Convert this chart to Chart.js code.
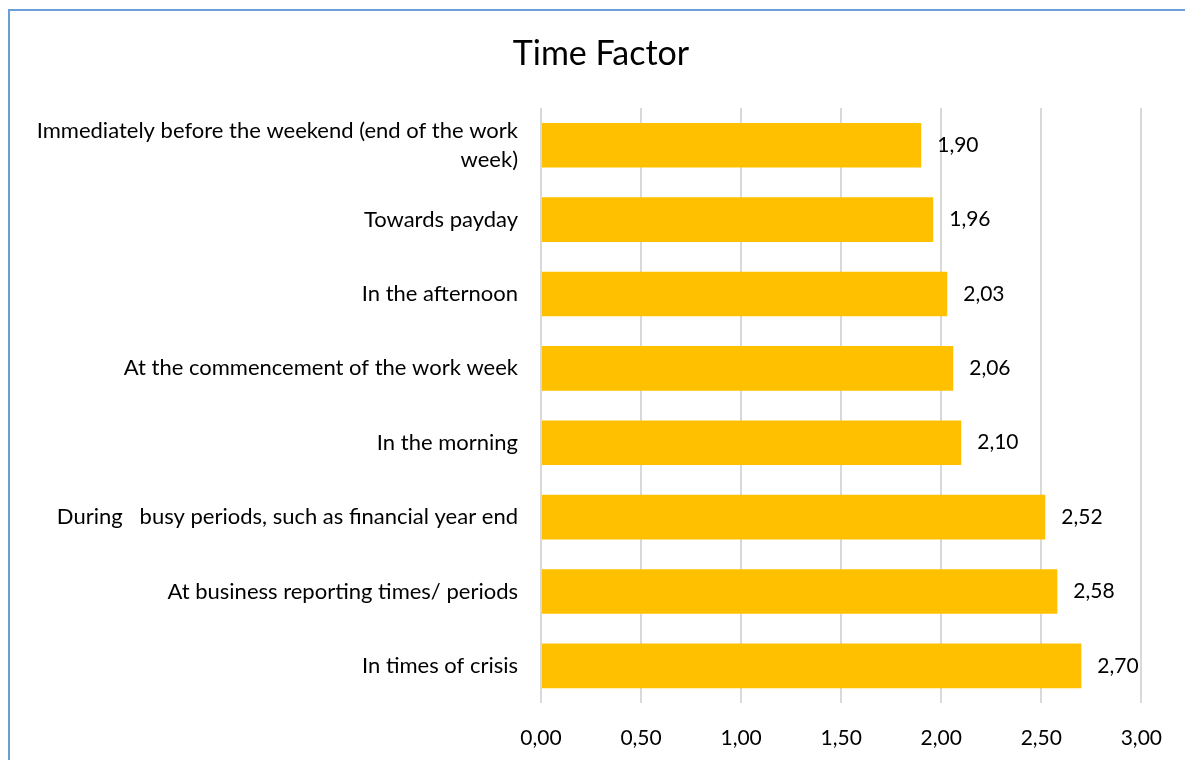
<!DOCTYPE html>
<html>
<head>
<meta charset="utf-8">
<script src="https://cdn.jsdelivr.net/npm/chart.js@4/dist/chart.umd.min.js"></script>
<style>
  html, body { margin: 0; padding: 0; background: #fff; overflow: hidden; }
  #wrap { position: relative; width: 1185px; height: 760px; }
  #frame { position: absolute; left: 8px; top: 9px; width: 1400px; height: 900px;
           border-left: 2px solid #6a9fd8; border-top: 2px solid #6a9fd8; pointer-events: none; }
</style>
</head>
<body>
<div id="wrap">
  <canvas id="chart"></canvas>
  <div id="frame"></div>
</div>
<script>
// categories, top to bottom
const categories = [
  ['Immediately before the weekend (end of the work', 'week)'],
  'Towards payday',
  'In the afternoon',
  'At the commencement of the work week',
  'In the morning',
  'During   busy periods, such as financial year end',
  'At business reporting times/ periods',
  'In times of crisis'
];
const scores = [1.90, 1.96, 2.03, 2.06, 2.10, 2.52, 2.58, 2.70];
const xTicks = [0, 0.5, 1, 1.5, 2, 2.5, 3];
const chartTitle = 'Time Factor';

const FONT = 'Lato, "Open Sans", sans-serif';
const fmt = v => v.toFixed(2).replace('.', ',');

// value labels to the right of each bar, plus the title (sits a bit right of centre)
const extras = {
  id: 'extras',
  afterDatasetsDraw(chart) {
    const ctx = chart.ctx;
    const meta = chart.getDatasetMeta(0);
    ctx.save();
    ctx.font = '21px ' + FONT;
    ctx.fillStyle = '#000';
    ctx.textAlign = 'left';
    ctx.textBaseline = 'middle';
    meta.data.forEach((bar, i) => {
      ctx.fillText(fmt(scores[i]), bar.x + 16, bar.y);
    });
    ctx.font = '34px ' + FONT;
    ctx.textAlign = 'center';
    ctx.fillText(chartTitle, 601, 54);
    ctx.restore();
  }
};

new Chart(document.getElementById('chart'), {
  type: 'bar',
  data: {
    labels: categories,
    datasets: [{
      data: scores,
      backgroundColor: '#FFC000',
      barPercentage: 0.6,
      categoryPercentage: 1.0
    }]
  },
  options: {
    indexAxis: 'y',
    responsive: true,
    maintainAspectRatio: false,
    animation: false,
    layout: { padding: { left: 0, right: 41, top: 108, bottom: 0 } },
    plugins: {
      legend: { display: false },
      tooltip: { enabled: false },
      title: { display: false }
    },
    scales: {
      x: {
        min: 0,
        max: 3,
        afterBuildTicks(scale) {
          scale.ticks = xTicks.map(v => ({ value: v }));
        },
        afterFit(scale) { scale.height = 57; },
        grid: { color: '#d9d9d9', lineWidth: 2, drawTicks: false },
        border: { display: false },
        ticks: {
          color: '#000',
          padding: 23,
          font: { family: FONT, size: 21 },
          callback: v => fmt(v)
        }
      },
      y: {
        afterFit(scale) { scale.width = 541; },
        grid: { display: false, drawTicks: false },
        border: { display: false },
        ticks: {
          color: '#000',
          padding: 23,
          font: { family: FONT, size: 22, lineHeight: 1.3 }
        }
      }
    }
  },
  plugins: [extras]
});
</script>
</body>
</html>
